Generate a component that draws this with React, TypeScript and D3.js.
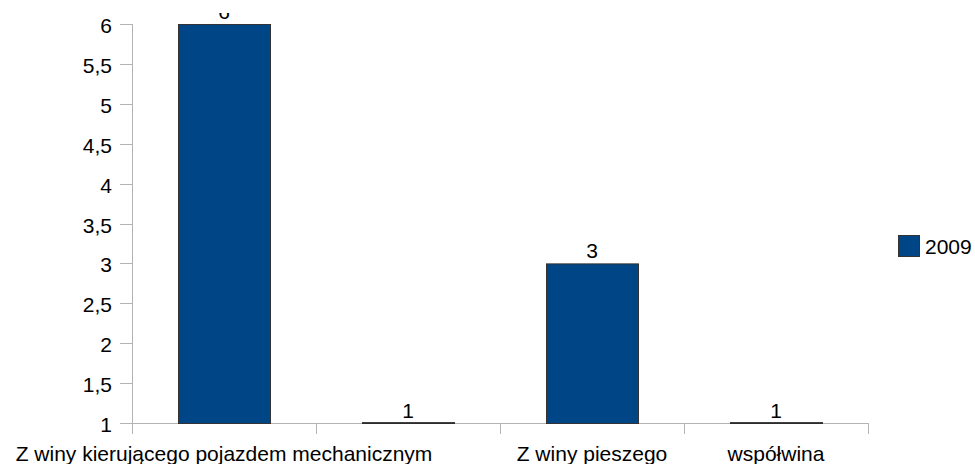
import React from "react";
import * as d3 from "d3";

const categories = ["Z winy kierującego pojazdem mechanicznym", "", "Z winy pieszego", "współwina"];
const values2009 = [6, 1, 3, 1];
const seriesName = "2009";
const yTicks = [1, 1.5, 2, 2.5, 3, 3.5, 4, 4.5, 5, 5.5, 6];

const W = 975;
const H = 464;
const FONT = "'Liberation Sans', Arial, sans-serif";
const BAR = "#004586";
const AXIS = "#b3b3b3";

export default function App() {
  const x = d3
    .scaleBand<number>()
    .domain(categories.map((_, i) => i))
    .range([132, 868])
    .paddingInner(0.5)
    .paddingOuter(0.25);
  const y = d3.scaleLinear().domain([1, 6]).range([423, 24]);
  const locale = d3.formatLocale({ decimal: ",", thousands: " ", grouping: [3], currency: ["", " zł"] });
  const fmt = locale.format("~g");
  const step = x.step();
  const boundaries = d3.range(categories.length + 1).map((i) => 132 + i * step);

  return (
    <svg
      width={W}
      height={H}
      style={{ position: "absolute", left: 0, top: 0, background: "#fff" }}
      fontFamily={FONT}
    >
      <defs>
        <clipPath id="clipTop">
          <rect x={0} y={13} width={W} height={H - 13} />
        </clipPath>
      </defs>
      <rect x={0} y={0} width={W} height={H} fill="#fff" />
      {/* y axis */}
      <line x1={132.5} x2={132.5} y1={y(6)} y2={y(1)} stroke={AXIS} />
      {yTicks.map((t) => (
        <g key={t}>
          <line x1={120} x2={132} y1={Math.round(y(t)) + 0.5} y2={Math.round(y(t)) + 0.5} stroke={AXIS} />
          <text x={112} y={y(t) + 9} textAnchor="end" fontSize={21} fill="#000">
            {fmt(t)}
          </text>
        </g>
      ))}
      {/* x axis */}
      <line x1={132} x2={868} y1={423.5} y2={423.5} stroke={AXIS} />
      {boundaries.map((b, i) => (
        <line key={i} x1={Math.round(b) + 0.5} x2={Math.round(b) + 0.5} y1={423} y2={434} stroke={AXIS} />
      ))}
      {/* bars */}
      {values2009.map((v, i) => {
        const x0 = x(i) as number;
        const top = y(v);
        const h = y(1) - top;
        return h > 0 ? (
          <rect key={i} x={x0 + 0.5} y={top + 0.5} width={x.bandwidth()} height={h} fill={BAR} stroke="#333" strokeWidth={1} />
        ) : (
          <line key={i} x1={x0} x2={x0 + x.bandwidth() + 1} y1={423} y2={423} stroke="#000" strokeWidth={1.5} />
        );
      })}
      {/* value labels */}
      <g clipPath="url(#clipTop)">
        {values2009.map((v, i) => (
          <text
            key={i}
            x={(x(i) as number) + x.bandwidth() / 2}
            y={y(v) - 5}
            textAnchor="middle"
            fontSize={21}
            fill="#000"
          >
            {fmt(v)}
          </text>
        ))}
      </g>
      {/* category labels */}
      {categories.map((c, i) => (
        <text
          key={i}
          x={(x(i) as number) + x.bandwidth() / 2}
          y={460.5}
          textAnchor="middle"
          fontSize={21}
          fill="#000"
        >
          {c}
        </text>
      ))}
      {/* legend */}
      <rect x={898.5} y={235.5} width={21} height={21} fill={BAR} stroke="#333" />
      <text x={925} y={253.5} fontSize={21} fill="#000">
        {seriesName}
      </text>
    </svg>
  );
}
